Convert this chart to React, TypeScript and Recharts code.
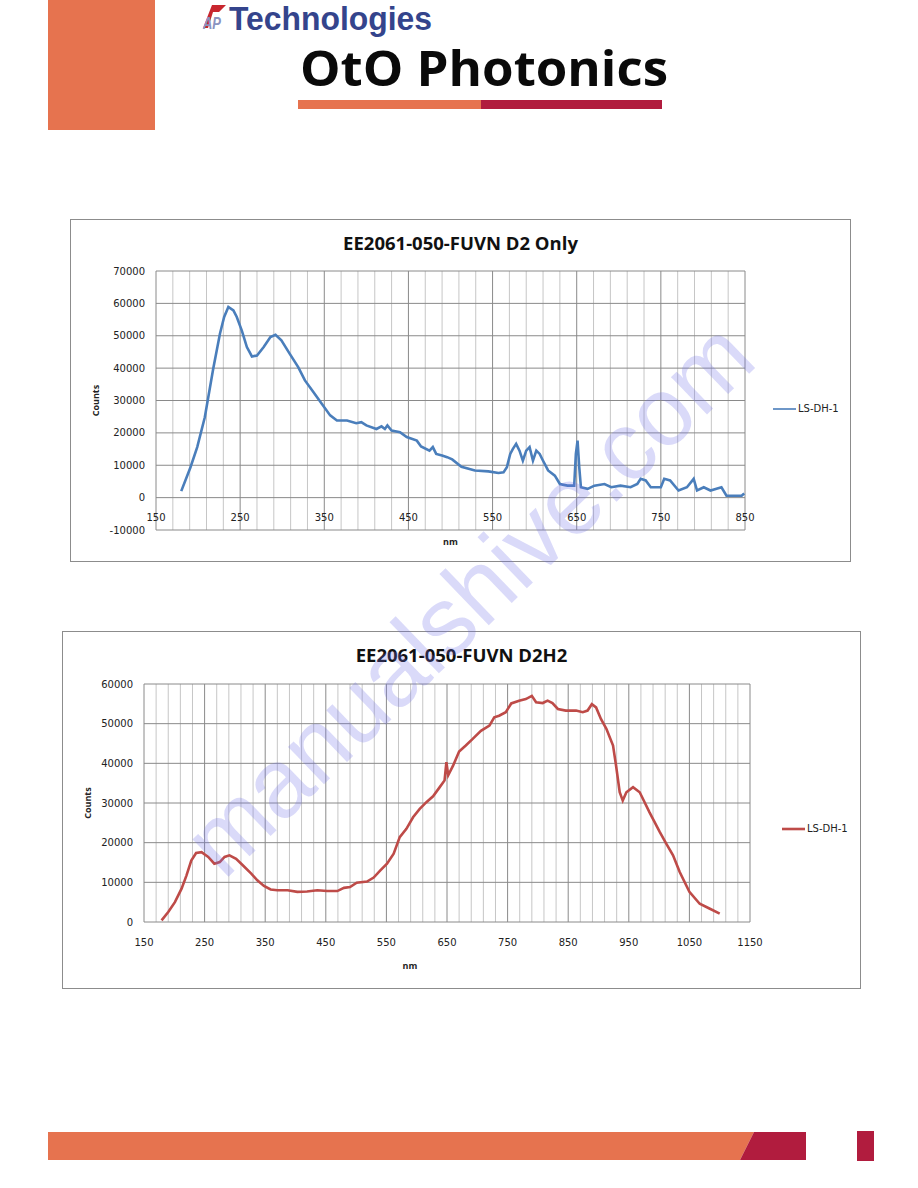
import React from 'react';
import { LineChart, Line, XAxis, YAxis, CartesianGrid, Legend, Label } from 'recharts';

// ---------- Data ----------
const seriesName = 'LS-DH-1';

// Chart 1: EE2061-050-FUVN D2 Only
const d2Nm = [180,191,199,208,218,226,231,236,242,246,252,258,264,270,278,286,292,299,309,319,327,337,347,357,365,377,388,394,400,412,418,422,425,430,440,448,460,465,475,479,483,490,496,502,513,529,545,557,563,567,571,574,578,582,586,590,594,598,602,606,610,616,624,630,639,647,649,651,653,655,663,671,683,691,702,714,722,726,732,738,750,754,761,771,781,789,793,801,809,822,828,836,846,849];
const d2Counts = [2000,9400,15600,24800,39800,50600,55800,58900,57800,55800,51600,46500,43600,43900,46500,49600,50300,48600,44400,40300,36200,32600,29000,25400,23800,23800,23000,23300,22300,21200,22000,21200,22300,20700,20200,18700,17600,15800,14500,15600,13500,13000,12500,11800,9500,8400,8100,7600,7800,9400,13500,15000,16600,14500,11400,14500,15600,11400,14500,13500,11400,8400,6800,4200,3700,3700,13500,17600,9400,3200,2700,3700,4200,3200,3700,3200,4200,5800,5300,3200,3200,5800,5300,2200,3200,5800,2200,3200,2200,3200,600,600,600,1300];

// Chart 2: EE2061-050-FUVN D2H2
const d2h2Nm = [179,190,201,212,220,228,236,245,256,266,275,283,291,302,313,327,337,348,359,370,387,403,419,436,452,469,480,490,501,518,529,540,551,562,572,583,594,605,616,627,638,646,649,652,660,670,681,692,706,720,728,736,747,756,769,780,790,797,808,816,824,833,846,863,874,882,889,896,904,913,924,929,935,940,946,957,968,984,1001,1012,1023,1034,1050,1067,1083,1100];
const d2h2Counts = [400,2500,5000,8400,11700,15500,17400,17600,16400,14700,15100,16400,16800,15900,14300,12200,10500,9100,8200,8000,8000,7600,7700,8000,7800,7800,8600,8800,9900,10200,11200,13000,14700,17200,21400,23500,26400,28500,30200,31700,34000,35700,40300,37000,39400,43000,44500,46100,48200,49500,51600,52000,52900,55100,55800,56200,57000,55400,55200,55800,55200,53700,53300,53300,52900,53300,54900,54100,51200,48700,44500,39400,32700,30600,32700,34000,32700,27700,22700,19700,16800,12600,7600,4600,3400,2100];

// Axes
const title1 = 'EE2061-050-FUVN D2 Only';
const title2 = 'EE2061-050-FUVN D2H2';
const x1Ticks = [150, 250, 350, 450, 550, 650, 750, 850];
const x1Minor = [170,190,210,230,270,290,310,330,370,390,410,430,470,490,510,530,570,590,610,630,670,690,710,730,770,790,810,830];
const y1Ticks = [-10000, 0, 10000, 20000, 30000, 40000, 50000, 60000, 70000];
const x2Ticks = [150, 250, 350, 450, 550, 650, 750, 850, 950, 1050, 1150];
const x2Minor = [170,190,210,230,270,290,310,330,370,390,410,430,470,490,510,530,570,590,610,630,670,690,710,730,770,790,810,830,870,890,910,930,970,990,1010,1030,1070,1090,1110,1130];
const y2Ticks = [0, 10000, 20000, 30000, 40000, 50000, 60000];

const d2Data = d2Nm.map((nm, i) => ({ nm, counts: d2Counts[i] }));
const d2h2Data = d2h2Nm.map((nm, i) => ({ nm, counts: d2h2Counts[i] }));

// ---------- Styles ----------
const BLUE = '#4A7EBB';
const RED = '#BE4B48';
const ORANGE = '#E6734F';
const CRIMSON = '#B11C3E';
const MAJOR = '#8a8a8a';
const MINOR = '#c6c6c6';
const TICK_FONT = 'DejaVu Sans, sans-serif';
const TITLE_FONT = 'Open Sans, sans-serif';

const makeTick = (offset: number) => (props: any) => {
  const { x, y, payload } = props;
  return (
    <text x={x} y={y + offset} textAnchor="middle" dominantBaseline="central"
      fontFamily={TICK_FONT} fontSize={10} fill="#222">{payload.value}</text>
  );
};

const makeLegend = (lineWidth: number) => (props: any) => {
  const item = (props.payload || [])[0] || {};
  return (
    <div style={{ display: 'flex', alignItems: 'center', fontFamily: TICK_FONT, fontSize: 10, color: '#222', whiteSpace: 'nowrap' }}>
      <svg width={23} height={6}><line x1={0} y1={3} x2={23} y2={3} stroke={item.color} strokeWidth={lineWidth} /></svg>
      <span style={{ marginLeft: 2 }}>{item.value}</span>
    </div>
  );
};

type ChartProps = {
  left: number; top: number; width: number; height: number;
  margin: { top: number; right: number; bottom: number; left: number };
  xAxisHeight: number;
  data: any[]; color: string; title: string;
  xTicks: number[]; xMinor: number[]; yTicks: number[];
  tickOffset: number; nmX: number; nmDy: number; countsX: number;
  legendLeft: number; legendTop: number; legendLine: number;
};

function SpectrumChart(p: ChartProps) {
  const xDomain = [p.xTicks[0], p.xTicks[p.xTicks.length - 1]];
  const yDomain = [p.yTicks[0], p.yTicks[p.yTicks.length - 1]];
  return (
    <>
      <div style={{ position: 'absolute', left: p.left, top: p.top, width: p.width, height: p.height, background: '#fff' }}>
        <LineChart width={p.width} height={p.height} data={p.data} margin={p.margin}>
          <CartesianGrid horizontal={false} verticalValues={p.xMinor} stroke={MINOR} />
          <CartesianGrid stroke={MAJOR} />
          <XAxis type="number" dataKey="nm" domain={xDomain} ticks={p.xTicks} allowDataOverflow
            height={p.xAxisHeight} tickSize={0} tickMargin={0} tickLine={false} axisLine={false}
            tick={makeTick(p.tickOffset)} interval={0}>
            <Label content={(lp: any) => {
              const vb = lp.viewBox || {};
              return (
                <text x={vb.x + p.nmX} y={vb.y + p.nmDy} textAnchor="middle" dominantBaseline="central"
                  fontFamily={TITLE_FONT} fontWeight={700} fontSize={9} fill="#222">nm</text>
              );
            }} />
          </XAxis>
          <YAxis type="number" domain={yDomain} ticks={p.yTicks} allowDataOverflow width={60}
            tickSize={0} tickMargin={11} tickLine={false} axisLine={false} interval={0}
            tick={{ fontFamily: TICK_FONT, fontSize: 10, fill: '#222' }}>
            <Label content={(lp: any) => {
              const vb = lp.viewBox || {};
              const cy = vb.y + vb.height / 2;
              return (
                <text x={p.countsX} y={cy} transform={`rotate(-90 ${p.countsX} ${cy})`} textAnchor="middle"
                  dominantBaseline="central" fontFamily={TITLE_FONT} fontWeight={700} fontSize={9} fill="#222">Counts</text>
              );
            }} />
          </YAxis>
          <Legend layout="horizontal" align="center" verticalAlign="middle" content={makeLegend(p.legendLine)}
            wrapperStyle={{ left: p.legendLeft, top: p.legendTop, width: 'auto', right: 'auto', bottom: 'auto' }} />
          <Line type="linear" dataKey="counts" name={seriesName} stroke={p.color} strokeWidth={2.6}
            dot={false} activeDot={false} isAnimationActive={false} />
        </LineChart>
      </div>
      <svg style={{ position: 'absolute', left: p.left, top: p.top, pointerEvents: 'none' }} width={p.width} height={p.height}>
        <rect x={0.5} y={0.5} width={p.width - 1} height={p.height - 1} fill="none" stroke="#8c8c8c" strokeWidth={1} />
        <text x={p.width / 2} y={31} textAnchor="middle" fontFamily={TITLE_FONT} fontWeight={700} fontSize={18.5} fill="#111">{p.title}</text>
      </svg>
    </>
  );
}

export default function App() {
  return (
    <div style={{ position: 'absolute', left: 0, top: 0, width: 918, height: 1188, background: '#fff', overflow: 'hidden' }}>
      <svg style={{ position: 'absolute', left: 0, top: 0 }} width={918} height={1188}>
        {/* header */}
        <rect x={48} y={0} width={107} height={130} fill={ORANGE} />
        <polygon points="203,28 212,5 226,5 219,12 213,12 208,28" fill="#C8262E" />
        <text x={203} y={29} fontFamily="Liberation Sans, Arial, sans-serif" fontWeight={700} fontStyle="italic"
          fontSize={17} fill="#8A93C0" textLength={18} lengthAdjust="spacingAndGlyphs">AP</text>
        <text x={229} y={30} fontFamily="Liberation Sans, Arial, sans-serif" fontWeight={700} fontSize={33}
          fill="#34448C" textLength={203} lengthAdjust="spacingAndGlyphs">Technologies</text>
        <text x={300} y={86} fontFamily="Open Sans, sans-serif" fontWeight={700} fontSize={49} fill="#0a0a0a"
          textLength={368} lengthAdjust="spacingAndGlyphs">OtO Photonics</text>
        <rect x={298} y={100} width={183} height={9} fill={ORANGE} />
        <rect x={481} y={100} width={181} height={9} fill={CRIMSON} />
        {/* footer */}
        <polygon points="48,1132 754,1132 740,1160 48,1160" fill={ORANGE} />
        <polygon points="754,1132 806,1132 806,1160 740,1160" fill={CRIMSON} />
        <rect x={857} y={1131} width={17} height={30} fill={CRIMSON} />
      </svg>

      <SpectrumChart left={70} top={219} width={781} height={343}
        margin={{ top: 52, right: 106, bottom: 2, left: 26 }} xAxisHeight={30}
        data={d2Data} color={BLUE} title={title1}
        xTicks={x1Ticks} xMinor={x1Minor} yTicks={y1Ticks}
        tickOffset={-12.4} nmX={294.5} nmDy={11} countsX={25}
        legendLeft={703} legendTop={184} legendLine={1.6} />

      <SpectrumChart left={62} top={631} width={799} height={358}
        margin={{ top: 53, right: 111, bottom: 0, left: 22 }} xAxisHeight={67}
        data={d2h2Data} color={RED} title={title2}
        xTicks={x2Ticks} xMinor={x2Minor} yTicks={y2Ticks}
        tickOffset={20} nmX={266} nmDy={43} countsX={25}
        legendLeft={720} legendTop={192} legendLine={2.6} />

      <svg style={{ position: 'absolute', left: 0, top: 0, pointerEvents: 'none' }} width={918} height={1188}>
        <text x={468} y={598} transform="rotate(-44 468 598)" textAnchor="middle" dominantBaseline="central"
          fontFamily="Liberation Sans, Arial, sans-serif" fontSize={98} fill="#6f6fe6" fillOpacity={0.26}
          textLength={745} lengthAdjust="spacingAndGlyphs">manualshive.com</text>
      </svg>
    </div>
  );
}
